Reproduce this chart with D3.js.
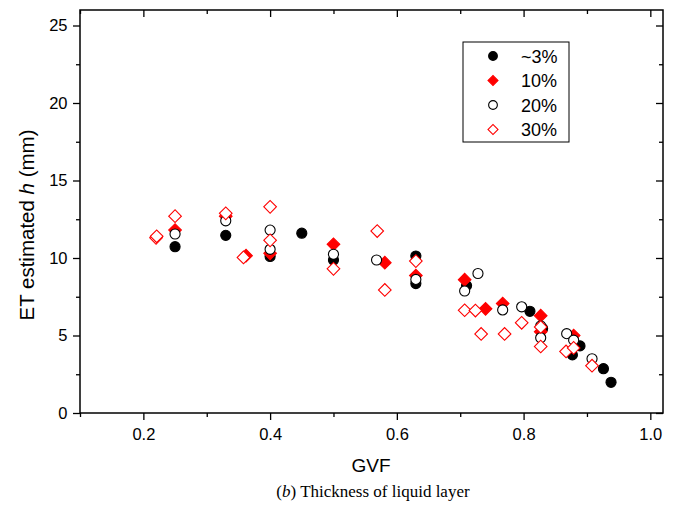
<!DOCTYPE html>
<html>
<head>
<meta charset="utf-8">
<script src="https://cdn.jsdelivr.net/npm/d3@7"></script>
<style>
  body { margin: 0; background: #fff; }
  svg { display: block; }
</style>
</head>
<body>
<div id="chart"></div>
<script>
// GVF / h (mm) pairs, one list per series
var s3x  = [0.25, 0.33, 0.40, 0.45, 0.50, 0.63, 0.63, 0.71, 0.81, 0.83, 0.877, 0.889, 0.926, 0.938];
var s3y  = [10.73, 11.46, 10.1, 11.6, 9.87, 10.13, 8.35, 8.22, 6.56, 5.45, 3.75, 4.33, 2.86, 1.98];

var s10x = [0.25, 0.33, 0.362, 0.40, 0.50, 0.581, 0.63, 0.707, 0.740, 0.767, 0.827, 0.827, 0.879];
var s10y = [11.8, 12.7, 10.15, 10.3, 10.88, 9.70, 8.87, 8.6, 6.72, 7.06, 6.28, 5.25, 5.0];

var s20x = [0.25, 0.33, 0.40, 0.40, 0.50, 0.568, 0.63, 0.707, 0.728, 0.767, 0.797, 0.827, 0.827, 0.868, 0.879, 0.908];
var s20y = [11.55, 12.4, 11.8, 10.56, 10.24, 9.87, 8.62, 7.87, 9.0, 6.65, 6.85, 5.62, 4.85, 5.12, 4.7, 3.5];

var s30x = [0.22, 0.221, 0.25, 0.33, 0.358, 0.40, 0.40, 0.50, 0.569, 0.581, 0.63, 0.707, 0.724, 0.733, 0.77, 0.797, 0.827, 0.827, 0.867, 0.879, 0.908];
var s30y = [11.3, 11.4, 12.7, 12.88, 10.04, 13.3, 11.14, 9.3, 11.74, 7.94, 9.8, 6.63, 6.61, 5.1, 5.1, 5.82, 5.55, 4.29, 3.97, 4.2, 3.05];

var legendLabels = ["~3%", "10%", "20%", "30%"];
var xTicks = [0.2, 0.4, 0.6, 0.8, 1.0];
var xMinor = [0.1, 0.3, 0.5, 0.7, 0.9];
var yTicks = [0, 5, 10, 15, 20, 25];
var yMinor = [2.5, 7.5, 12.5, 17.5, 22.5];

function init() {
    var W = 685, H = 509;
    var m = {top: 10, right: 22, bottom: 96, left: 80};
    var w = W - m.left - m.right;
    var h = H - m.top - m.bottom;

    var svg = d3.select("#chart").append("svg")
        .attr("width", W)
        .attr("height", H);

    var g = svg.append("g").attr("transform", "translate(" + m.left + "," + m.top + ")");

    var x = d3.scaleLinear().domain([0.1, 1.02]).range([0, w]);
    var y = d3.scaleLinear().domain([0, 26]).range([h, 0]);

    var font = "'Liberation Sans', Arial, sans-serif";

    // frame
    g.append("rect")
        .attr("width", w).attr("height", h)
        .attr("fill", "none").attr("stroke", "#000").attr("stroke-width", 1.5);

    // bottom axis with labels, ticks outward
    var bx = g.append("g").attr("transform", "translate(0," + h + ")")
        .call(d3.axisBottom(x).tickValues(xTicks).tickSize(7).tickSizeOuter(0).tickFormat(d3.format(".1f")));
    bx.append("g").call(d3.axisBottom(x).tickValues(xMinor).tickSize(4).tickSizeOuter(0).tickFormat(""));

    // left axis
    var ly = g.append("g")
        .call(d3.axisLeft(y).tickValues(yTicks).tickSize(7).tickSizeOuter(0).tickFormat(d3.format("d")));
    ly.append("g").call(d3.axisLeft(y).tickValues(yMinor).tickSize(4).tickSizeOuter(0).tickFormat(""));

    // mirrored ticks, inward
    var tx = g.append("g")
        .call(d3.axisBottom(x).tickValues(xTicks).tickSize(7).tickSizeOuter(0).tickFormat(""));
    tx.append("g").call(d3.axisBottom(x).tickValues(xMinor).tickSize(4).tickSizeOuter(0).tickFormat(""));
    var ry = g.append("g").attr("transform", "translate(" + w + ",0)")
        .call(d3.axisLeft(y).tickValues(yTicks).tickSize(7).tickSizeOuter(0).tickFormat(""));
    ry.append("g").call(d3.axisLeft(y).tickValues(yMinor).tickSize(4).tickSizeOuter(0).tickFormat(""));

    g.selectAll(".domain").remove();
    g.selectAll(".tick line").attr("stroke", "#000").attr("stroke-width", 1.3);
    g.selectAll(".tick text")
        .attr("fill", "#000")
        .style("font-family", font)
        .style("font-size", "16.5px");
    bx.selectAll(".tick text").attr("dy", "1.0em");
    ly.selectAll(".tick text").attr("dx", "-0.15em");

    // axis titles
    svg.append("text")
        .attr("x", 371).attr("y", 472)
        .attr("text-anchor", "middle")
        .style("font-family", font).style("font-size", "19px")
        .text("GVF");

    var yt = svg.append("text")
        .attr("transform", "translate(34,225) rotate(-90)")
        .attr("text-anchor", "middle")
        .style("font-family", font).style("font-size", "20.5px");
    yt.append("tspan").text("ET estimated ");
    yt.append("tspan").style("font-style", "italic").text("h");
    yt.append("tspan").text(" (mm)");

    var cap = svg.append("text")
        .attr("x", 373).attr("y", 497)
        .attr("text-anchor", "middle")
        .style("font-family", "'Liberation Serif', 'Times New Roman', serif")
        .style("font-size", "17px");
    cap.append("tspan").text("(");
    cap.append("tspan").style("font-style", "italic").text("b");
    cap.append("tspan").text(") Thickness of liquid layer");

    // series
    var series = [
        {xs: s3x,  ys: s3y,  type: d3.symbolCircle, fill: "#000", stroke: "#000", rot: 0, size: 80},
        {xs: s10x, ys: s10y, type: d3.symbolSquare, fill: "#f00", stroke: "#f00", rot: 45, size: 80},
        {xs: s20x, ys: s20y, type: d3.symbolCircle, fill: "#fff", stroke: "#000", rot: 0, size: 80},
        {xs: s30x, ys: s30y, type: d3.symbolSquare, fill: "#fff", stroke: "#f00", rot: 45, size: 80}
    ];

    series.forEach(function(s) {
        var pts = s.xs.map(function(v, i) { return [v, s.ys[i]]; });
        g.append("g").selectAll("path")
            .data(pts)
            .enter()
            .append("path")
            .attr("d", d3.symbol().type(s.type).size(s.size))
            .attr("transform", function(d) {
                return "translate(" + x(d[0]) + "," + y(d[1]) + ") rotate(" + s.rot + ")";
            })
            .attr("fill", s.fill)
            .attr("stroke", s.stroke)
            .attr("stroke-width", 1.1);
    });

    // legend
    var lg = svg.append("g").attr("transform", "translate(463,42)");
    lg.append("rect")
        .attr("width", 106).attr("height", 100)
        .attr("fill", "#fff").attr("stroke", "#000").attr("stroke-width", 1);
    series.forEach(function(s, i) {
        var cy = 14 + i * 24.5;
        lg.append("path")
            .attr("d", d3.symbol().type(s.type).size(s.type === d3.symbolCircle ? 60 : 50))
            .attr("transform", "translate(30," + cy + ") rotate(" + s.rot + ")")
            .attr("fill", s.fill)
            .attr("stroke", s.stroke)
            .attr("stroke-width", 1.1);
        lg.append("text")
            .attr("x", 58).attr("y", cy + 6.5)
            .style("font-family", font).style("font-size", "18px")
            .text(legendLabels[i]);
    });
}

window.onload = init;
</script>
</body>
</html>
